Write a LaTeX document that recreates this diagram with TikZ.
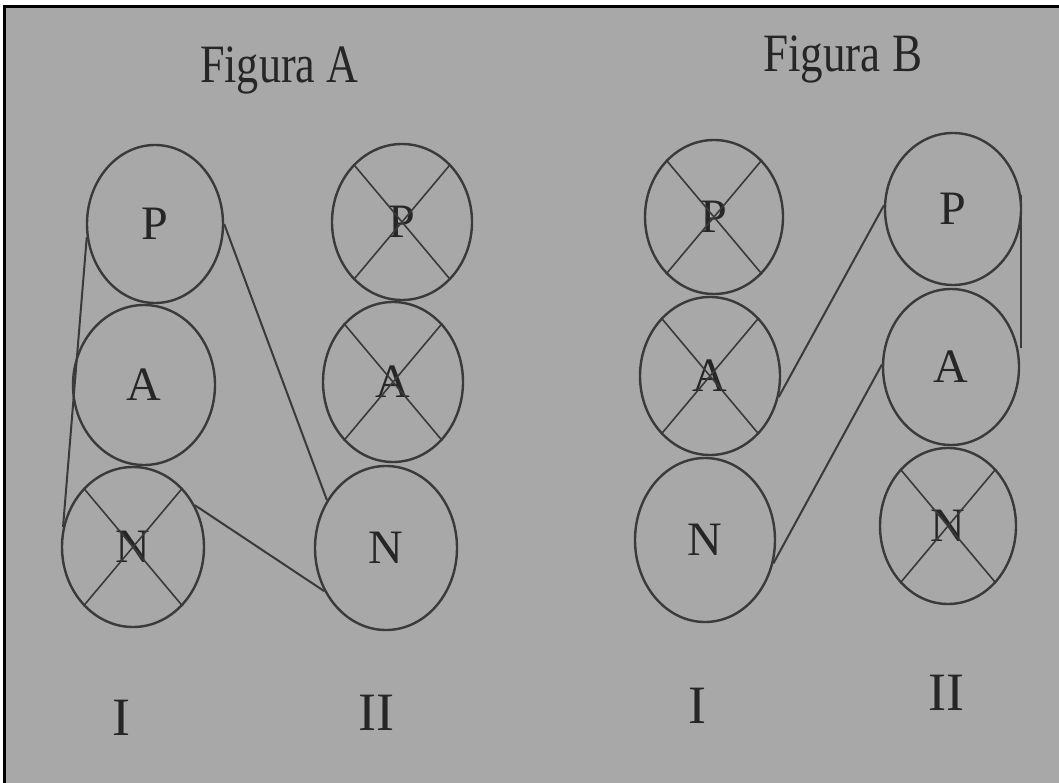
\documentclass[tikz,border=0pt]{standalone}
\usepackage{fontspec}
\setmainfont{Liberation Serif}
\usepackage{graphicx}
\usetikzlibrary{shapes.geometric}
\definecolor{bg}{RGB}{168,168,168}
\definecolor{ink}{RGB}{58,58,58}
\definecolor{txt}{RGB}{38,38,38}
\newcommand\myX[1]{\draw[cross] (#1.130) -- (#1.310) (#1.50) -- (#1.230);}
\begin{document}
\begin{tikzpicture}[x=1pt,y=-1pt,
  ring/.style={ellipse, draw=ink, line width=2.4pt, inner sep=0pt, text=txt,
    font=\fontsize{48}{48}\selectfont},
  conn/.style={draw=ink, line width=2pt},
  cross/.style={draw=ink, line width=1.6pt},
  title/.style={anchor=base west, inner sep=0pt, text=txt, font=\fontsize{54}{54}\selectfont},
  roman/.style={anchor=base, inner sep=0pt, text=txt, font=\fontsize{54}{54}\selectfont}]
\useasboundingbox (0,0) rectangle (1059,783);
\fill[white] (0,0) rectangle (1059,783);
\fill[bg] (4,7) rectangle (1059,783);
\draw[black, line width=3pt] (4,783) -- (4,7) -- (1059,7);

% Figura A
\node[title] (tA) at (200,83) {\resizebox{158pt}{\height}{Figura A}};
\node[ring, minimum width=136pt, minimum height=158pt] (PI) at (155,224) {P};
\node[ring, minimum width=142pt, minimum height=160pt] (AI) at (144,385) {A};
\node[ring, minimum width=142pt, minimum height=160pt] (NI) at (133,547) {N};
\node[ring, minimum width=140pt, minimum height=156pt] (PII) at (402,222) {P};
\node[ring, minimum width=140pt, minimum height=160pt] (AII) at (393,382) {A};
\node[ring, minimum width=142pt, minimum height=164pt] (NII) at (386,548) {N};
\myX{NI}
\myX{PII}
\myX{AII}
\draw[conn] (PI.191) -- (NI.164);
\draw[conn] (PI.0) -- (NII.141);
\draw[conn] (NI.34) -- (NII.215);
\node[roman] (rA1) at (121,735) {I};
\node[roman] (rA2) at (376,730) {II};

% Figura B
\node[title] (tB) at (763,72) {\resizebox{159pt}{\height}{Figura B}};
\node[ring, minimum width=138pt, minimum height=154pt] (PIB) at (714,217) {P};
\node[ring, minimum width=140pt, minimum height=158pt] (AIB) at (710,376) {A};
\node[ring, minimum width=140pt, minimum height=164pt] (NIB) at (705,540) {N};
\node[ring, minimum width=136pt, minimum height=152pt] (PIIB) at (953,209) {P};
\node[ring, minimum width=136pt, minimum height=156pt] (AIIB) at (951,367) {A};
\node[ring, minimum width=136pt, minimum height=156pt] (NIIB) at (948,526) {N};
\myX{PIB}
\myX{AIB}
\myX{NIIB}
\draw[conn] (AIB.343) -- (PIIB.177);
\draw[conn] (NIB.341) -- (AIIB.178);
\draw[conn] (PIIB.12) -- (PIIB.12 |- AIIB.16);
\node[roman] (rB1) at (697,723) {I};
\node[roman] (rB2) at (946,710) {II};
\end{tikzpicture}
\end{document}
